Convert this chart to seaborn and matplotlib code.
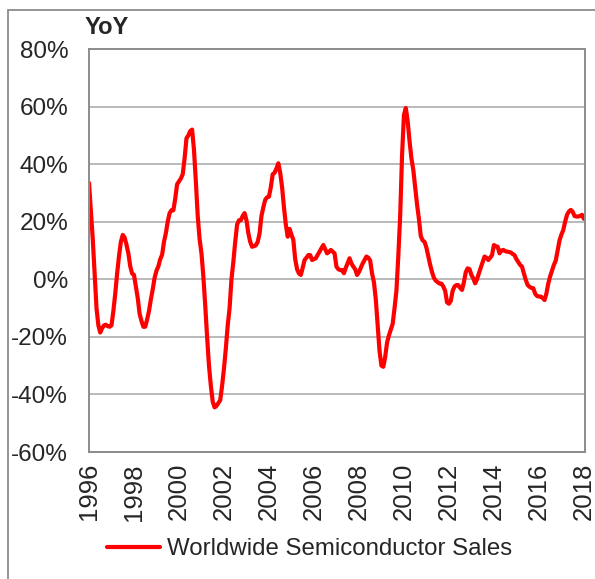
import numpy as np
import pandas as pd
import matplotlib.pyplot as plt
import seaborn as sns
from matplotlib.patches import Rectangle

# Monthly YoY growth (%), Jan 1996 .. Jan 2018
start_year = 1996
yoy = [
    # 1996
    33.5, 24, 14, 2, -10, -16, -18.5, -17, -16, -15.8, -16.3, -16.5,
    # 1997
    -16, -11, -5, 2, 8, 13, 15.4, 14.5, 12, 9, 4.5, 2,
    # 1998
    1.5, -2.5, -6.5, -12, -14.5, -16.5, -16.5, -14, -11, -7, -3.5, 0.5,
    # 1999
    3, 4.5, 7, 8.5, 13, 16, 20, 23, 24, 24, 28, 33,
    # 2000
    34, 35, 36.5, 42, 49, 50, 51.5, 52, 45, 34, 22, 14,
    # 2001
    9, 1, -9, -20, -30, -37, -42.5, -44.5, -44, -43, -42, -37,
    # 2002
    -31, -24, -16, -10, 0, 6, 13, 19, 20.5, 20.5, 22, 23,
    # 2003
    20.5, 16, 13, 11.3, 11.5, 11.8, 13, 16, 22, 25, 27.6, 28.5,
    # 2004
    28.7, 32, 36.5, 37, 38.5, 40.3, 37, 32, 25, 19, 14.8, 17.5,
    # 2005
    15.5, 13.7, 7, 3.5, 2, 1.5, 4, 6.7, 7.5, 8.4, 8.4, 6.7,
    # 2006
    7, 7.3, 8.5, 9.6, 10.8, 11.9, 10.5, 9, 9.5, 10.2, 9.6, 9.0,
    # 2007
    4.4, 3.5, 3.2, 3.2, 2.1, 4, 5.6, 7.3, 5.5, 4.4, 3.5, 1.5,
    # 2008
    2.5, 4, 5.5, 6.7, 7.9, 7.5, 6.5, 2, -1, -7, -16, -25,
    # 2009
    -30, -30.4, -27, -22, -19.5, -17.5, -15.5, -10, -4, 8, 22, 43,
    # 2010
    57, 59.5, 55, 48, 42, 38, 32, 26, 21, 15, 13.5, 13,
    # 2011
    11, 8, 5, 2.5, 0.5, -0.5, -1, -1.5, -1.5, -2.5, -4, -8,
    # 2012
    -8.5, -7.5, -4, -2.5, -2, -2, -3, -3.7, -1, 2.5, 3.8, 3.5,
    # 2013
    1.5, 0.3, -1.4, 0, 2.1, 4, 6, 7.9, 7.5, 6.7, 7.5, 8.4,
    # 2014
    11.9, 11.5, 11.3, 9, 10, 10.2, 9.8, 9.6, 9.5, 9.3, 8.8, 8.4,
    # 2015
    7, 6, 5, 4.4, 2, -0.2, -2, -2.6, -3, -3.1, -5, -5.8,
    # 2016
    -6, -6, -6.5, -7.2, -5, -1.5, 1, 3, 5, 6.5, 10, 13.5,
    # 2017
    15.5, 17.1, 20, 22.4, 23.5, 24.1, 23.5, 22, 21.8, 21.8, 22, 22.4,
    # 2018
    21,
]
year_ticks = list(range(1996, 2019))
year_labels = [str(y) if y % 2 == 0 else "" for y in year_ticks]
pct_ticks = [-60, -40, -20, 0, 20, 40, 60, 80]
series_name = "Worldwide Semiconductor Sales"

df = pd.DataFrame({
    "year": start_year + np.arange(len(yoy)) / 12.0,
    "yoy": yoy,
})

sns.set_style("white")
plt.rcParams["font.family"] = ["Liberation Sans", "DejaVu Sans"]

W, H = 595, 579
fig = plt.figure(figsize=(W / 100, H / 100), dpi=100)
ax = fig.add_axes([89 / W, 1 - 452 / H, (585 - 89) / W, (452 - 49) / H])

# outer chart frame (runs off the right/bottom edge)
fig.patches.append(Rectangle((8 / W, -0.1), 1.2, 1 - 10 / H + 0.1,
                             transform=fig.transFigure, fill=False,
                             edgecolor="#8c8c8c", linewidth=1.3, zorder=0))

sns.lineplot(data=df, x="year", y="yoy", ax=ax, color="#ff0000",
             linewidth=3.0, label=series_name, legend=False)

ax.set_xlim(1996, 2018.05)
ax.set_ylim(-60, 80)
ax.set_yticks(pct_ticks)
ax.set_yticklabels([f"{v}%" for v in pct_ticks], fontsize=17.5)
ax.set_xticks(year_ticks)
ax.set_xticklabels(year_labels, rotation=90, fontsize=18.5)
ax.tick_params(axis="x", direction="out", length=5, width=1.2, color="#8c8c8c", pad=3)
ax.tick_params(axis="y", length=0, pad=15)
ax.yaxis.grid(True, color="#b4b4b4", linewidth=1.3)
ax.xaxis.grid(False)
for s in ax.spines.values():
    s.set_color("#8c8c8c")
    s.set_linewidth(1.4)
ax.set_xlabel("")
ax.set_ylabel("")

fig.text(85 / W, 1 - 27 / H, "YoY", fontsize=17, fontweight="bold", va="center", ha="left")

handles, labels = ax.get_legend_handles_labels()
fig.legend(handles, labels, loc="center", bbox_to_anchor=(310 / W, 1 - 549 / H),
           frameon=False, fontsize=17.3, handlelength=2.2, handletextpad=0.3)

fig.savefig("out.png", dpi=100)
